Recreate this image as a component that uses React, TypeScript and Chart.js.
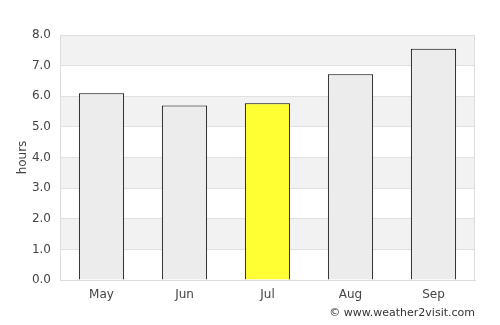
import React, { useEffect, useRef } from "react";
import { Chart, registerables } from "chart.js";

Chart.register(...registerables);

const months = ["May", "Jun", "Jul", "Aug", "Sep"];
const sunHours = [6.1, 5.7, 5.77, 6.72, 7.55];
const barColors = ["#ececec", "#ececec", "#ffff33", "#ececec", "#ececec"];
const yTicks = [0, 1, 2, 3, 4, 5, 6, 7, 8];
const yTitle = "hours";
const credit = "© www.weather2visit.com";

const FONT = "'DejaVu Sans', sans-serif";

const bandsPlugin = {
  id: "bands",
  beforeDraw(chart: any) {
    const { ctx, chartArea, scales } = chart;
    const y = scales.y;
    ctx.save();
    ctx.fillStyle = "#ffffff";
    ctx.fillRect(chartArea.left, chartArea.top, chartArea.right - chartArea.left, chartArea.bottom - chartArea.top);
    ctx.fillStyle = "#f2f2f2";
    for (let i = 1; i < yTicks.length; i += 2) {
      const top = y.getPixelForValue(yTicks[i] + 1);
      const bot = y.getPixelForValue(yTicks[i]);
      ctx.fillRect(chartArea.left, top, chartArea.right - chartArea.left, bot - top);
    }
    ctx.restore();
  },
  afterDatasetsDraw(chart: any) {
    const { ctx, chartArea } = chart;
    ctx.save();
    ctx.strokeStyle = "#dddddd";
    ctx.lineWidth = 1;
    ctx.strokeRect(chartArea.left + 0.5, chartArea.top + 0.5, chartArea.right - chartArea.left - 1, chartArea.bottom - chartArea.top);
    ctx.restore();
  },
  afterDraw(chart: any) {
    const { ctx } = chart;
    ctx.save();
    ctx.font = `11px ${FONT}`;
    ctx.fillStyle = "#333333";
    ctx.textAlign = "right";
    ctx.textBaseline = "middle";
    ctx.fillText(credit, 475, 313);
    ctx.restore();
  },
};

export default function App() {
  const ref = useRef<HTMLCanvasElement>(null);
  useEffect(() => {
    if (!ref.current) return;
    const chart = new Chart(ref.current, {
      type: "bar",
      data: {
        labels: months,
        datasets: [
          {
            data: sunHours,
            backgroundColor: barColors,
            borderColor: "#000000",
            borderWidth: 1,
            barPercentage: 0.545,
            categoryPercentage: 1,
          },
        ],
      },
      options: {
        animation: false,
        responsive: false,
        layout: { padding: { top: 35, right: 25, left: 0, bottom: 0 } },
        plugins: { legend: { display: false }, tooltip: { enabled: false } },
        scales: {
          x: {
            grid: { display: false, drawTicks: false },
            border: { display: true, color: "#dddddd" },
            ticks: { color: "#444444", font: { family: FONT, size: 12 }, padding: 8 },
            afterFit(scale: any) {
              scale.height = 45;
            },
          },
          y: {
            min: 0,
            max: 8,
            ticks: {
              stepSize: 1,
              color: "#444444",
              font: { family: FONT, size: 12 },
              padding: 9,
              callback: (v: any) => Number(v).toFixed(1),
            },
            grid: { color: "#e0e0e0", drawTicks: false },
            border: { display: true, color: "#dddddd" },
            title: {
              display: true,
              text: yTitle,
              color: "#444444",
              font: { family: FONT, size: 12 },
              padding: { top: 16, bottom: 0 },
            },
            afterFit(scale: any) {
              scale.width = 60;
            },
          },
        },
      },
      plugins: [bandsPlugin],
    });
    return () => chart.destroy();
  }, []);
  return (
    <div style={{ position: "absolute", left: 0, top: 0, width: 500, height: 325, background: "#fff" }}>
      <canvas ref={ref} width={500} height={325} style={{ width: 500, height: 325 }} />
    </div>
  );
}
